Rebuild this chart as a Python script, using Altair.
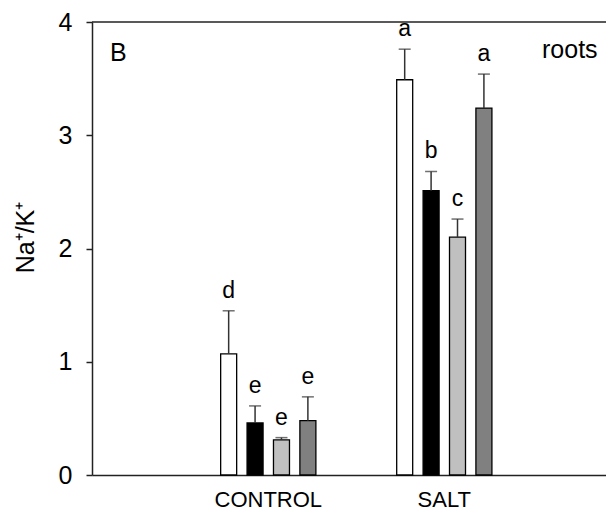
import altair as alt
import pandas as pd

groups = ["CONTROL", "CONTROL", "CONTROL", "CONTROL", "SALT", "SALT", "SALT", "SALT"]
treatments = ["T1", "T2", "T3", "T4", "T1", "T2", "T3", "T4"]
means = [1.07, 0.46, 0.31, 0.48, 3.49, 2.51, 2.10, 3.24]
errors = [0.38, 0.15, 0.02, 0.21, 0.27, 0.17, 0.16, 0.30]
letters = ["d", "e", "e", "e", "a", "b", "c", "a"]
fills = ["#FFFFFF", "#000000", "#C0C0C0", "#808080"]
panel_text = ["B", "roots"]

df = pd.DataFrame({"group": groups, "treatment": treatments, "mean": means,
                   "err": errors, "letter": letters})

FONT = "Liberation Sans"
W, H = 514, 453
GSORT = ["CONTROL", "SALT"]
OFF_DOMAIN = ["L", "T1", "T2", "T3", "T4", "R"]

base = alt.Chart(df).transform_calculate(upper="datum.mean + datum.err")

xscale = alt.Scale(paddingInner=0, paddingOuter=0.46, align=0.545)
xenc = alt.X("group:N", title=None, sort=GSORT, scale=xscale,
             axis=alt.Axis(labelAngle=0, ticks=False, labelPadding=14, labelFontSize=22,
                           labelColor="black", labelFont=FONT, domainColor="#222",
                           domainWidth=1.5))
xoff = alt.XOffset("treatment:N",
                   scale=alt.Scale(domain=OFF_DOMAIN, paddingInner=0.394, paddingOuter=0.53))
yscale = alt.Scale(domain=[0, 4], nice=False)

bars = base.mark_bar(stroke="black", strokeWidth=1.3).encode(
    x=xenc,
    xOffset=xoff,
    y=alt.Y("mean:Q", scale=yscale, title="Na⁺/K⁺",
            axis=alt.Axis(values=[0, 1, 2, 3, 4], format="d", grid=False, tickSize=6,
                          labelPadding=14, labelFontSize=25, labelColor="black",
                          labelFont=FONT, titleFontSize=25, titleFont=FONT,
                          titleFontWeight="normal", titleColor="black", titlePadding=20,
                          titleY=215, domainColor="#222", domainWidth=1.5,
                          tickColor="#222", tickWidth=1.5)),
    fill=alt.Fill("treatment:N", scale=alt.Scale(domain=["T1", "T2", "T3", "T4"], range=fills),
                  legend=None),
)

rules = base.mark_rule(color="#333", strokeWidth=1.5).encode(
    x=alt.X("group:N", sort=GSORT), xOffset="treatment:N",
    y=alt.Y("mean:Q", scale=yscale), y2="upper:Q")

caps = base.mark_tick(orient="horizontal", size=12, thickness=1.5, color="#333").encode(
    x=alt.X("group:N", sort=GSORT), xOffset="treatment:N",
    y=alt.Y("upper:Q", scale=yscale))

labels = base.mark_text(dy=-13, baseline="alphabetic", fontSize=23, font=FONT,
                        color="black").encode(
    x=alt.X("group:N", sort=GSORT), xOffset="treatment:N",
    y=alt.Y("upper:Q", scale=yscale), text="letter:N")

top_line = alt.Chart(pd.DataFrame({"a": [0]})).mark_rule(color="#222", strokeWidth=1.5).encode(
    x=alt.value(0), x2=alt.value(W), y=alt.value(0))

panel_df = pd.DataFrame({"t": panel_text, "px": [18, 450], "py": [39, 36]})
panel = alt.Chart(panel_df).mark_text(align="left", baseline="alphabetic", fontSize=25,
                                      font=FONT, color="black").encode(
    x=alt.X("px:Q", scale=None), y=alt.Y("py:Q", scale=None), text="t:N")

chart = alt.layer(bars, rules, caps, labels, top_line, panel).properties(
    width=W, height=H,
    autosize=alt.AutoSizeParams(type="none"),
    padding={"left": 84, "top": 14, "right": 0, "bottom": 34},
).configure_view(stroke=None).configure_axis(grid=False)

chart.save("out.html", embed_options={"renderer": "svg", "actions": False})
